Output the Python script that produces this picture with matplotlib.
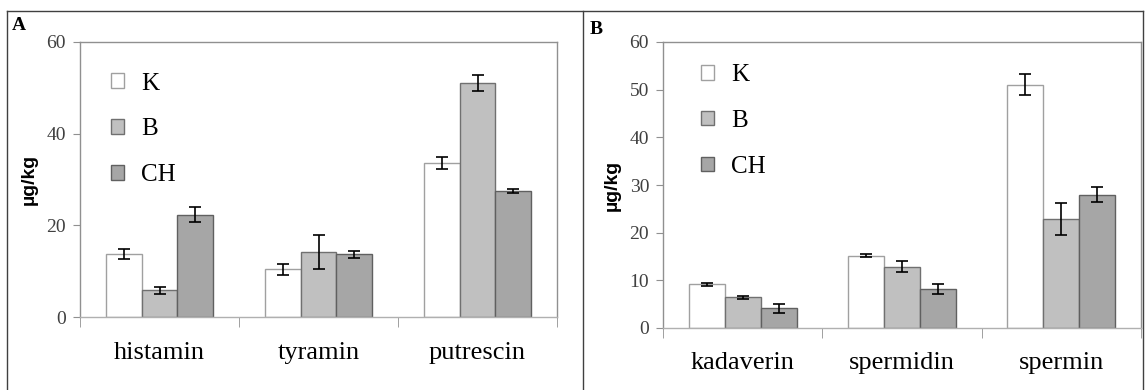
import matplotlib
matplotlib.use("Agg")
import matplotlib.pyplot as plt
from matplotlib.lines import Line2D
from matplotlib.patches import Patch
import numpy as np

series = ["K", "B", "CH"]
colors = ["#ffffff", "#c0c0c0", "#a6a6a6"]

cats_a = ["histamin", "tyramin", "putrescin"]
vals_a = {"K": [13.7, 10.4, 33.6], "B": [5.8, 14.2, 51.0], "CH": [22.3, 13.7, 27.5]}
errs_a = {"K": [1.1, 1.2, 1.3], "B": [0.7, 3.7, 1.7], "CH": [1.6, 0.8, 0.4]}
yticks_a = [0, 20, 40, 60]

cats_b = ["kadaverin", "spermidin", "spermin"]
vals_b = {"K": [9.2, 15.2, 51.0], "B": [6.4, 12.9, 22.9], "CH": [4.1, 8.2, 28.0]}
errs_b = {"K": [0.3, 0.4, 2.2], "B": [0.3, 1.2, 3.4], "CH": [0.9, 1.0, 1.5]}
yticks_b = [0, 10, 20, 30, 40, 50, 60]

plt.rcParams['font.family'] = ['Liberation Serif', 'DejaVu Serif']

fig = plt.figure(figsize=(11.45, 3.9), dpi=100)

# outer frames
W, H = 1145, 390
def fline(x0, y0, x1, y1):
    fig.add_artist(Line2D([x0 / W, x1 / W], [1 - y0 / H, 1 - y1 / H], color="#404040", lw=1.0))
fline(7, 11, 1143, 11)
fline(7, 11, 7, 390)
fline(583, 11, 583, 390)
fline(1143, 11, 1143, 390)

def panel(rect, cats, vals, errs, yticks, letter, letter_pos, leg_pos, label_pad):
    ax = fig.add_axes(rect)
    x = np.arange(len(cats))
    w = 0.226
    edges = ["#a0a0a0", "#707070", "#606060"]
    for i, s in enumerate(series):
        ax.bar(x + (i - 1) * w, vals[s], w, color=colors[i], edgecolor=edges[i], linewidth=1.0,
               yerr=errs[s], capsize=4, error_kw=dict(ecolor="black", elinewidth=1.2, capthick=1.2),
               zorder=2)
    ax.set_xlim(-0.5, len(cats) - 0.5)
    ax.set_ylim(0, yticks[-1])
    ax.set_yticks(yticks)
    ax.set_yticklabels([str(t) for t in yticks], fontsize=14, color="#404040")
    ax.set_xticks(x)
    ax.set_xticklabels(cats, fontsize=19)
    ax.set_xticks(np.arange(-0.5, len(cats)), minor=True)
    ax.tick_params(axis="x", which="major", length=0, pad=label_pad)
    ax.tick_params(axis="x", which="minor", length=7, color="#909090", direction="out")
    ax.tick_params(axis="y", length=5, color="#909090", direction="out", pad=5)
    for sp in ax.spines.values():
        sp.set_color("#909090")
        sp.set_linewidth(1.0)
    ax.spines["bottom"].set_color("#b0b0b0")
    ax.set_ylabel("µg/kg", fontsize=14, fontweight="bold", family=["Liberation Sans", "DejaVu Sans"], labelpad=6)
    handles = [Patch(facecolor=colors[i], edgecolor=edges[i], label=s) for i, s in enumerate(series)]
    ax.legend(handles=handles, loc="upper left", bbox_to_anchor=leg_pos, frameon=False, fontsize=18,
              handlelength=0.52, handleheight=0.52, labelspacing=0.95, handletextpad=0.68, borderaxespad=0)
    fig.text(letter_pos[0] / W, 1 - letter_pos[1] / H, letter, fontsize=14, fontweight="bold",
             ha="left", va="center")
    return ax

panel([80 / W, 1 - 317 / H, 477 / W, 275 / H], cats_a, vals_a, errs_a, yticks_a, "A", (12, 25), (0.045, 0.925), 18)
panel([663 / W, 1 - 328 / H, 478 / W, 286 / H], cats_b, vals_b, errs_b, yticks_b, "B", (590, 30), (0.059, 0.957), 17)

fig.savefig("out.png", dpi=100)
